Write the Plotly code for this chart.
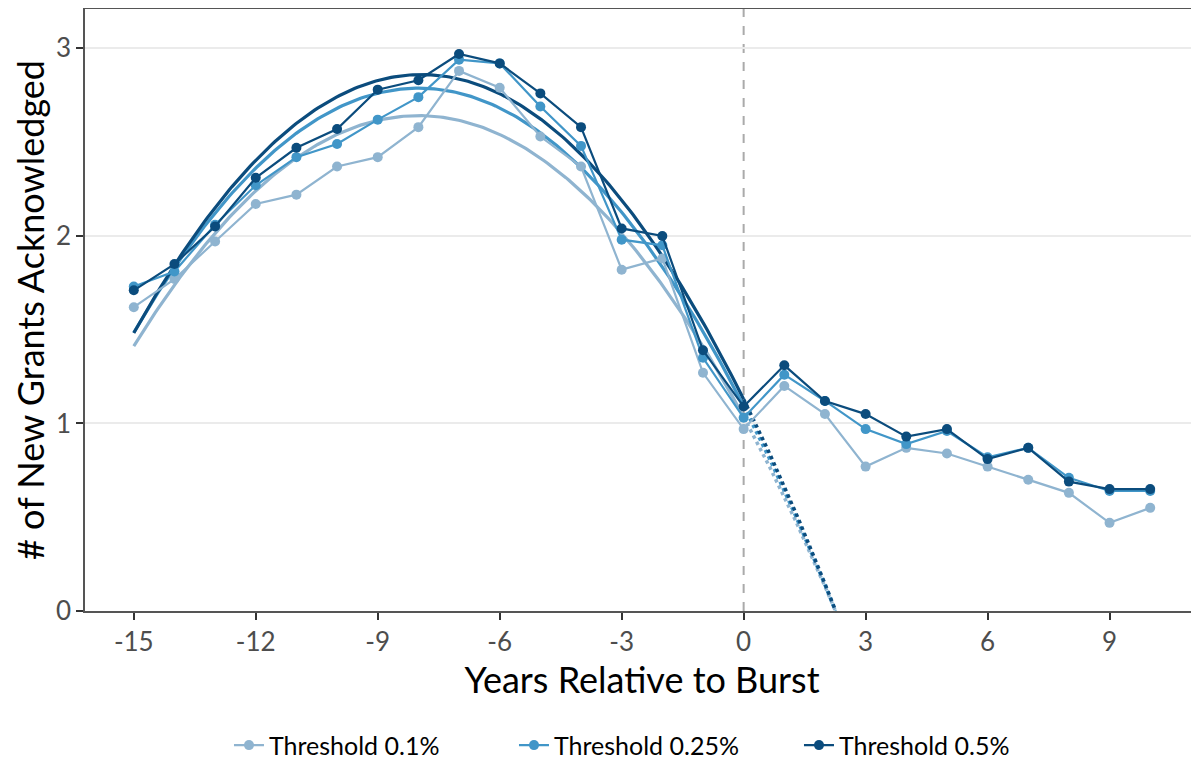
import numpy as np
import plotly.graph_objects as go

years = list(range(-15, 11))

thr_01 = [1.62, 1.77, 1.97, 2.17, 2.22, 2.37, 2.42, 2.58, 2.88, 2.79, 2.53, 2.37, 1.82, 1.88, 1.27, 0.97,
          1.20, 1.05, 0.77, 0.87, 0.84, 0.77, 0.70, 0.63, 0.47, 0.55]
thr_025 = [1.73, 1.81, 2.06, 2.27, 2.42, 2.49, 2.62, 2.74, 2.94, 2.92, 2.69, 2.48, 1.98, 1.95, 1.35, 1.03,
           1.26, 1.12, 0.97, 0.89, 0.96, 0.82, 0.87, 0.71, 0.64, 0.64]
thr_05 = [1.71, 1.85, 2.05, 2.31, 2.47, 2.57, 2.78, 2.83, 2.97, 2.92, 2.76, 2.58, 2.04, 2.00, 1.39, 1.09,
          1.31, 1.12, 1.05, 0.93, 0.97, 0.81, 0.87, 0.69, 0.65, 0.65]

series_names = ["Threshold 0.1%", "Threshold 0.25%", "Threshold 0.5%"]
series_vals = [thr_01, thr_025, thr_05]
colors = ["#8fb4d0", "#4196c8", "#0b4c7d"]

fig = go.Figure()

yrs = np.array(years, dtype=float)
pre = yrs <= 0

# quadratic fits on pre-burst data
for name, vals, col in zip(series_names, series_vals, colors):
    v = np.array(vals)
    coef = np.polyfit(yrs[pre], v[pre], 2)
    xs = np.linspace(-15, 0, 200)
    fig.add_trace(go.Scatter(x=xs, y=np.polyval(coef, xs), mode="lines",
                             line=dict(color=col, width=3.2), showlegend=False, hoverinfo="skip"))
    # extension after burst until reaching zero
    roots = np.roots(coef)
    roots = [r.real for r in roots if abs(r.imag) < 1e-9 and r.real > 0]
    xend = min(roots) if roots else 10
    xe = np.linspace(0, xend, 60)
    fig.add_trace(go.Scatter(x=xe, y=np.polyval(coef, xe), mode="lines",
                             line=dict(color=col, width=3.5, dash="dot"), showlegend=False, hoverinfo="skip"))

for name, vals, col in zip(series_names, series_vals, colors):
    fig.add_trace(go.Scatter(x=years, y=vals, mode="lines+markers", name=name,
                             line=dict(color=col, width=2.2),
                             marker=dict(color=col, size=10)))

fig.add_shape(type="line", x0=0, x1=0, y0=0, y1=1, yref="paper", xref="x",
              line=dict(color="#aaaaaa", width=2, dash="dash"), layer="below")

fig.update_layout(
    width=1191, height=755,
    margin=dict(l=77, r=0, t=1, b=152, autoexpand=False),
    paper_bgcolor="white", plot_bgcolor="white",
    font=dict(family="Lato, Open Sans, sans-serif", color="#000000"),
    legend=dict(orientation="h", x=0.513, xanchor="center", y=-0.185, yanchor="top",
                font=dict(size=25), entrywidth=240, traceorder="normal", tracegroupgap=0),
    showlegend=True,
)
fig.update_xaxes(range=[-16.2, 11.2], tickvals=[-15, -12, -9, -6, -3, 0, 3, 6, 9],
                 ticktext=["-15", "-12", "-9", "-6", "-3", "0", "3", "6", "9"],
                 showgrid=False, zeroline=False, showline=True, linecolor="#555555", linewidth=1.5,
                 mirror=True, ticks="outside", ticklen=7, tickcolor="#333333", tickwidth=1.5,
                 tickfont=dict(size=26, color="#4d4d4d"), automargin=False,
                 title=dict(text="Years Relative to Burst", font=dict(size=36), standoff=5))
fig.update_yaxes(range=[0, 3.21], tickvals=[0, 1, 2, 3], showgrid=True, gridcolor="#ebebeb", gridwidth=2,
                 zeroline=False, showline=True, linecolor="#555555", linewidth=1.5, mirror=True,
                 ticks="outside", ticklen=7, tickcolor="#333333", tickwidth=1.5,
                 tickfont=dict(size=26, color="#4d4d4d"), automargin=False,
                 title=dict(text="# of New Grants Acknowledged", font=dict(size=36), standoff=6))

fig.write_html("out.html")
